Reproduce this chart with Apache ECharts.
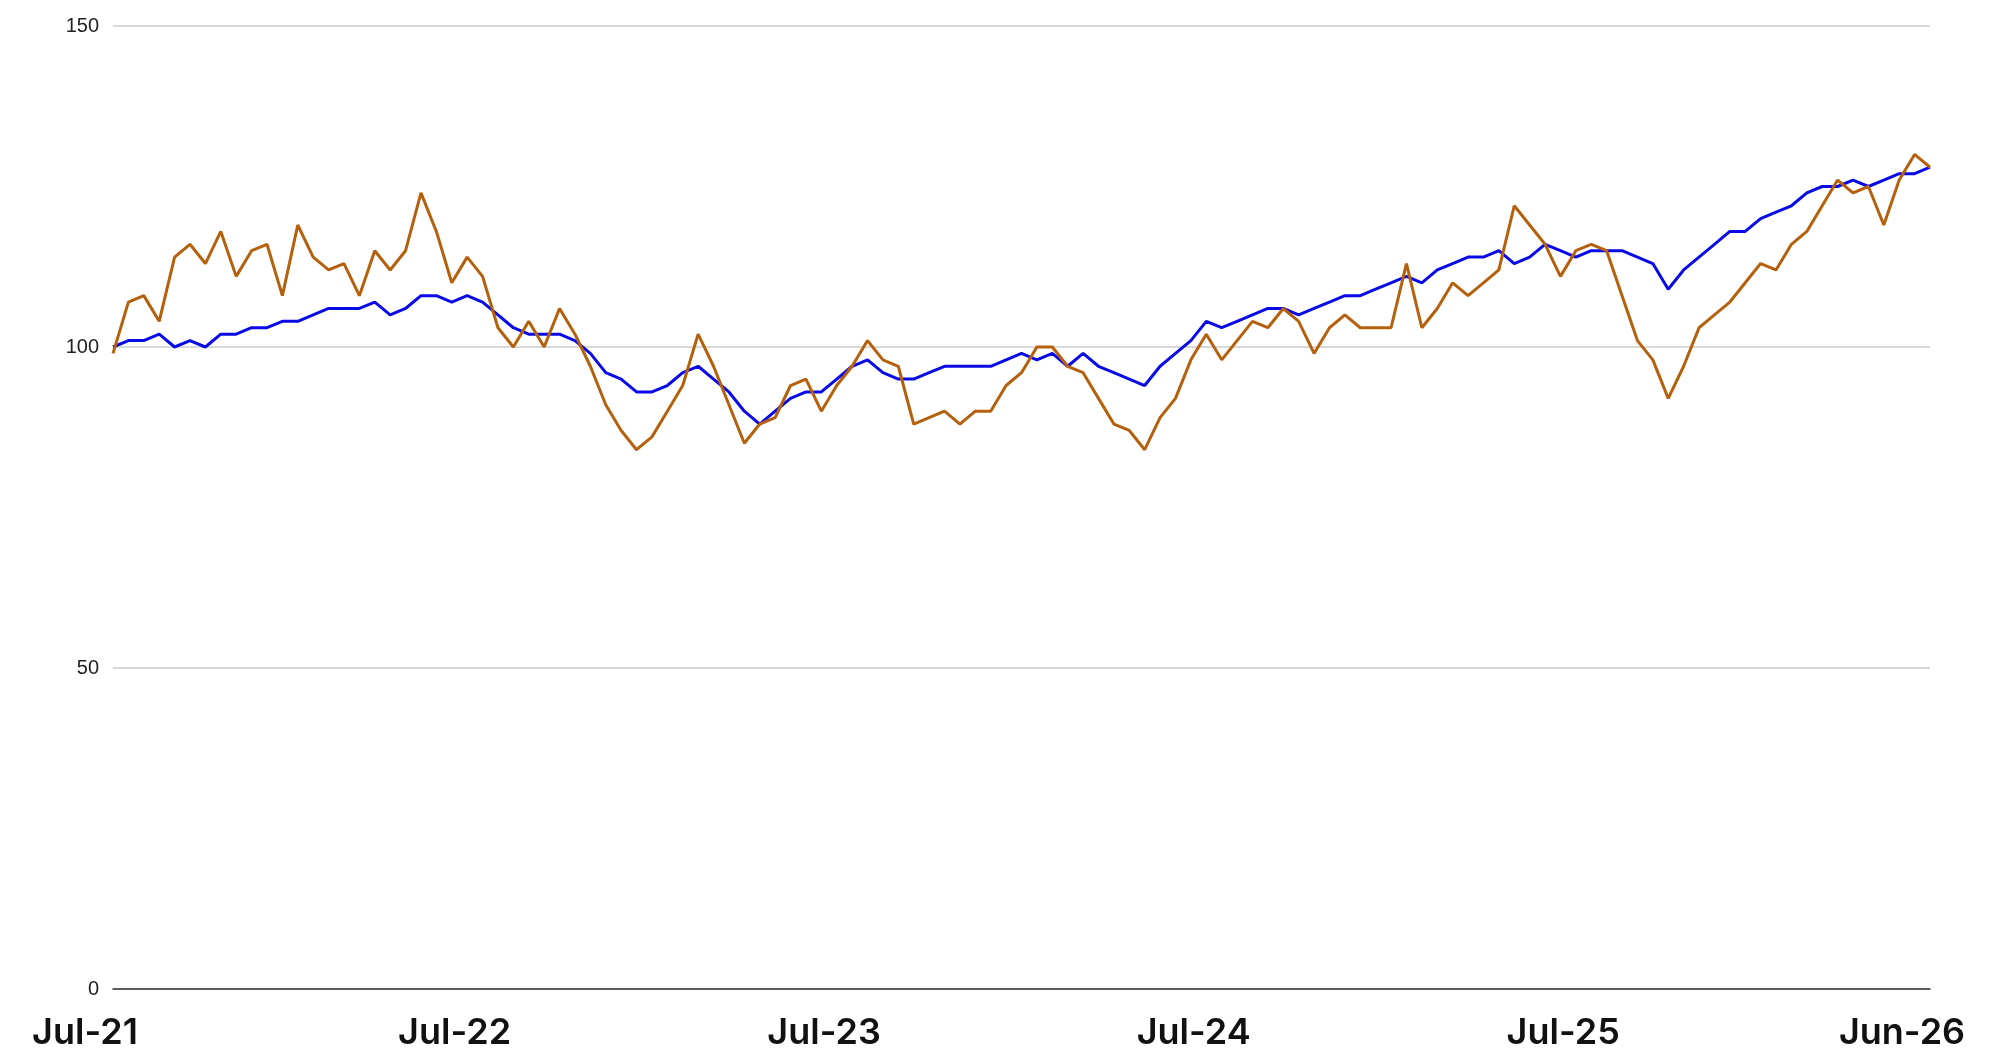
<!DOCTYPE html>
<html><head><meta charset="utf-8">
<script src="https://cdn.jsdelivr.net/npm/echarts@6/dist/echarts.min.js"></script>
<style>html,body{margin:0;padding:0;background:#fff}#c{width:1996px;height:1053px}</style>
</head><body><div id="c"></div>
<script>
// half-month observations from Jul-2021 to Jun-2026
const blueSeries = [100,101,101,102,100,101,100,102,102,103,103,104,104,105,106,106,106,107,105,106,108,108,107,108,107,105,103,102,102,102,101,99,96,95,93,93,94,96,97,95,93,90,88,90,92,93,93,95,97,98,96,95,95,96,97,97,97,97,98,99,98,99,97,99,97,96,95,94,97,99,101,104,103,104,105,106,106,105,106,107,108,108,109,110,111,110,112,113,114,114,115,113,114,116,115,114,115,115,115,114,113,109,112,114,116,118,118,120,121,122,124,125,125,126,125,126,127,127,128];
const orangeSeries = [99,107,108,104,114,116,113,118,111,115,116,108,119,114,112,113,108,115,112,115,124,118,110,114,111,103,100,104,100,106,102,97,91,87,84,86,90,94,102,97,91,85,88,89,94,95,90,94,97,101,98,97,88,89,90,88,90,90,94,96,100,100,97,96,92,88,87,84,89,92,98,102,98,101,104,103,106,104,99,103,105,103,103,103,113,103,106,110,108,110,112,122,119,116,111,115,116,115,108,101,98,92,97,103,105,107,110,113,112,116,118,122,126,124,125,119,126,130,128];
const tickLabels = {0:'Jul-21',24:'Jul-22',48:'Jul-23',72:'Jul-24',96:'Jul-25',118:'Jun-26'};
const categories = blueSeries.map((_, i) => i);

const chart = echarts.init(document.getElementById('c'));
chart.setOption({
  animation: false,
  grid: {left: 113, right: 66, top: 26, bottom: 64, containLabel: false},
  xAxis: {
    type: 'category', data: categories, boundaryGap: false,
    axisLine: {show: true, lineStyle: {color: '#333', width: 1.5}},
    axisTick: {show: false},
    axisLabel: {
      interval: (i) => tickLabels[i] !== undefined,
      formatter: (v) => tickLabels[v] || '',
      color: '#111', fontSize: 36, fontWeight: 600, fontFamily: 'Inter',
      margin: 26, padding: [0, 56, 0, 0], showMaxLabel: true
    },
    splitLine: {show: false}
  },
  yAxis: {
    type: 'value', min: 0, max: 150, interval: 50,
    axisLine: {show: false}, axisTick: {show: false},
    axisLabel: {color: '#222', fontSize: 20, fontFamily: 'Liberation Sans', margin: 14},
    splitLine: {lineStyle: {color: '#cccccc', width: 1.5}}
  },
  series: [
    {type: 'line', data: blueSeries, showSymbol: false, lineStyle: {color: '#0a0ae6', width: 3}, z: 2},
    {type: 'line', data: orangeSeries, showSymbol: false, lineStyle: {color: '#b5600c', width: 3}, z: 3}
  ]
});
</script></body></html>
